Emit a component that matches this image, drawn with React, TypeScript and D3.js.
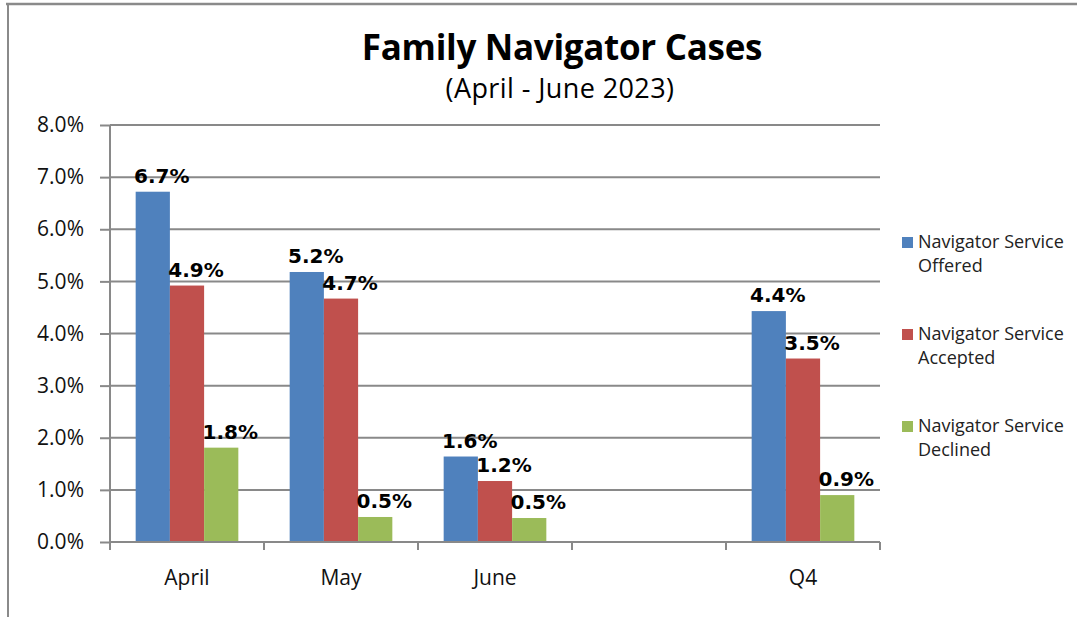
import * as d3 from 'd3';
import React, { useEffect, useRef } from 'react';

const categories = ["April", "May", "June", "", "Q4"];
const seriesNames = [
  "Navigator Service Offered",
  "Navigator Service Accepted",
  "Navigator Service Declined"
];
const offered = [0.0672, 0.0518, 0.0164, NaN, 0.0443];
const accepted = [0.0492, 0.0467, 0.0117, NaN, 0.0352];
const declined = [0.0181, 0.0048, 0.0046, NaN, 0.0090];
const yTicks = [0, 0.01, 0.02, 0.03, 0.04, 0.05, 0.06, 0.07, 0.08];
const colors = ["#4F81BD", "#C0504D", "#9BBB59"];

const WIDTH = 1077;
const HEIGHT = 617;

const App: React.FC = () => {
  const svgRef = useRef<SVGSVGElement>(null);

  useEffect(() => {
    if (!svgRef.current) { return; }
    const svg = d3.select(svgRef.current);
    svg.selectAll("*").remove();

    const margin = { top: 125, right: 197, bottom: 75, left: 110 };
    const plotRight = WIDTH - margin.right;
    const plotBottom = HEIGHT - margin.bottom;
    const gridColor = "#898989";

    // outer frame (top + left only)
    svg.append("line")
      .attr("x1", 6).attr("x2", WIDTH).attr("y1", 4).attr("y2", 4)
      .attr("stroke", "#8a8a8a").attr("stroke-width", 2.5);
    svg.append("line")
      .attr("x1", 8).attr("x2", 8).attr("y1", 4).attr("y2", HEIGHT)
      .attr("stroke", "#8a8a8a").attr("stroke-width", 2);

    // titles
    svg.append("text")
      .attr("x", 562).attr("y", 60)
      .attr("text-anchor", "middle")
      .style("font-family", "'Open Sans', sans-serif")
      .style("font-weight", "bold")
      .style("font-size", "35px")
      .style("letter-spacing", "-0.3px")
      .text("Family Navigator Cases");
    svg.append("text")
      .attr("x", 560).attr("y", 98)
      .attr("text-anchor", "middle")
      .style("font-family", "'Open Sans', sans-serif")
      .style("font-size", "27px")
      .style("letter-spacing", "0.4px")
      .text("(April - June 2023)");

    const rows = categories.map((c, i) => ({
      category: c,
      values: [offered[i], accepted[i], declined[i]]
    }));

    const x0 = d3.scaleBand<string>()
      .domain(categories)
      .range([margin.left, plotRight])
      .padding(0);

    const x1 = d3.scaleBand<number>()
      .domain([0, 1, 2])
      .range([0, x0.bandwidth()])
      .paddingInner(0)
      .paddingOuter(0.75);

    const y = d3.scaleLinear()
      .domain([0, 0.08])
      .range([plotBottom, margin.top]);

    // grid lines
    svg.append("g")
      .selectAll("line")
      .data(yTicks.slice(1))
      .enter().append("line")
      .attr("x1", margin.left)
      .attr("x2", plotRight)
      .attr("y1", d => y(d))
      .attr("y2", d => y(d))
      .attr("stroke", gridColor)
      .attr("stroke-width", 2);

    // y axis
    const yAxis = svg.append("g")
      .attr("transform", `translate(${margin.left},0)`)
      .call(d3.axisLeft(y)
        .tickValues(yTicks)
        .tickFormat(d3.format(".1%"))
        .tickSize(10)
        .tickPadding(16)
      );
    yAxis.select(".domain")
      .attr("stroke", gridColor)
      .attr("stroke-width", 2)
      .attr("d", `M0,${margin.top}V${plotBottom}`);
    yAxis.selectAll(".tick line")
      .attr("stroke", gridColor)
      .attr("stroke-width", 2);
    yAxis.selectAll(".tick text")
      .style("font-family", "'Open Sans', sans-serif")
      .style("font-size", "21px")
      .attr("fill", "#111");

    // bars
    const groups = svg.append("g")
      .selectAll("g")
      .data(rows)
      .enter().append("g")
      .attr("transform", d => `translate(${x0(d.category)},0)`);

    groups.selectAll("rect")
      .data(d => d.values.map((v, k) => ({ v, k })).filter(e => !isNaN(e.v)))
      .enter().append("rect")
      .attr("x", d => x1(d.k)!)
      .attr("width", x1.bandwidth())
      .attr("y", d => y(d.v))
      .attr("height", d => plotBottom - y(d.v))
      .attr("fill", d => colors[d.k]);

    // x axis line + boundary ticks
    svg.append("line")
      .attr("x1", margin.left).attr("x2", plotRight)
      .attr("y1", plotBottom).attr("y2", plotBottom)
      .attr("stroke", gridColor).attr("stroke-width", 2);
    const bounds = categories.map(c => x0(c)!).concat([plotRight]);
    svg.append("g")
      .selectAll("line")
      .data(bounds)
      .enter().append("line")
      .attr("x1", d => d).attr("x2", d => d)
      .attr("y1", plotBottom).attr("y2", plotBottom + 8)
      .attr("stroke", gridColor).attr("stroke-width", 2);

    svg.append("g")
      .selectAll("text")
      .data(categories)
      .enter().append("text")
      .attr("x", d => x0(d)! + x0.bandwidth() / 2)
      .attr("y", plotBottom + 43)
      .attr("text-anchor", "middle")
      .style("font-family", "'Open Sans', sans-serif")
      .style("font-size", "21px")
      .attr("fill", "#111")
      .text(d => d);

    // data labels
    groups.selectAll("text")
      .data(d => d.values.map((v, k) => ({ v, k })).filter(e => !isNaN(e.v)))
      .enter().append("text")
      .attr("x", d => x1(d.k)! + x1.bandwidth() / 2 + 9)
      .attr("y", d => y(d.v) - 9)
      .attr("text-anchor", "middle")
      .style("font-family", "'DejaVu Sans', sans-serif")
      .style("font-weight", "bold")
      .style("font-size", "20px")
      .attr("fill", "#000")
      .text(d => d3.format(".1%")(d.v));

    // legend
    const legend = svg.append("g")
      .selectAll("g")
      .data(seriesNames)
      .enter().append("g")
      .attr("transform", (_, i) => `translate(902,${248 + i * 92})`);
    legend.append("rect")
      .attr("x", 0).attr("y", -11)
      .attr("width", 11).attr("height", 11)
      .attr("fill", (_, i) => colors[i]);
    const legendText = legend.append("text")
      .attr("x", 16)
      .style("font-family", "'Open Sans', sans-serif")
      .style("font-size", "18px")
      .attr("fill", "#222");
    legendText.append("tspan")
      .attr("x", 16).attr("y", 0)
      .text(d => d.split(" ").slice(0, 2).join(" "));
    legendText.append("tspan")
      .attr("x", 16).attr("y", 24)
      .text(d => d.split(" ").slice(2).join(" "));
  }, []);

  return (
    <div style={{ position: "absolute", left: 0, top: 0, background: "#fff" }}>
      <svg ref={svgRef} width={WIDTH} height={HEIGHT} />
    </div>
  );
};

export default App;
